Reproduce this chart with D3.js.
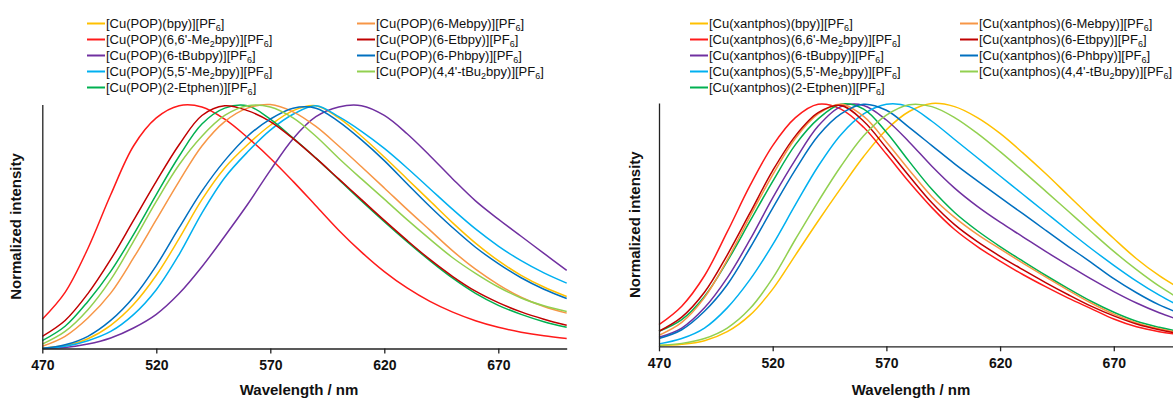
<!DOCTYPE html>
<html>
<head>
  <meta charset="utf-8">
  <title>emission spectra</title>
  <script src="https://cdn.jsdelivr.net/npm/d3@7"></script>
  <style>
    body { margin: 0; background: #fff; }
    svg { display: block; font-family: "Liberation Sans", Arial, sans-serif; }
    .axis path, .axis line { stroke: #222; stroke-width: 1.3; }
    .axis text { font-family: "Liberation Sans", Arial, sans-serif; font-size: 14px; font-weight: bold; fill: #111; }
    .title { font-size: 15px; font-weight: bold; fill: #111; }
    .legend text { font-size: 13px; fill: #111; }
  </style>
</head>
<body>
<script>

// wavelength grid (nm) and x tick labels
var wavelengths = [470, 480, 490, 500, 510, 520, 530, 540, 550, 560, 570, 580,
                   590, 600, 610, 620, 630, 640, 650, 660, 670, 680, 690, 700];
var xTicks = [470, 520, 570, 620, 670];

// left panel, [Cu(POP)(N^N)][PF6] - normalized emission
var popBpy      = [.002, .012, .04, .095, .18, .30, .45, .61, .74, .835, .915, .975, .995, .945, .87, .785, .695, .605, .515, .432, .36, .30, .252, .213];
var popMe2bpy   = [.12, .23, .41, .63, .83, .945, .995, .99, .94, .865, .78, .685, .585, .485, .395, .315, .248, .193, .149, .114, .087, .067, .052, .041];
var popTBubpy   = [0, .004, .018, .043, .084, .14, .225, .335, .46, .59, .73, .86, .95, .99, .995, .955, .88, .79, .695, .605, .53, .46, .39, .32];
var pop55Me2bpy = [0, .009, .032, .07, .139, .241, .385, .555, .70, .805, .895, .96, .995, .95, .89, .82, .74, .655, .57, .49, .42, .36, .31, .268];
var popEtphen   = [.032, .091, .193, .316, .467, .631, .788, .92, .985, .995, .94, .862, .78, .693, .605, .52, .438, .36, .288, .226, .177, .14, .11, .087];
var popMebpy    = [.009, .05, .125, .227, .371, .528, .685, .83, .93, .985, 1.0, .97, .91, .83, .745, .658, .57, .485, .40, .325, .262, .21, .172, .145];
var popEtbpy    = [.05, .115, .225, .365, .525, .685, .835, .955, .995, .975, .93, .86, .78, .695, .61, .525, .443, .365, .295, .235, .188, .15, .12, .095];
var popPhbpy    = [0, .015, .05, .115, .21, .34, .495, .645, .77, .87, .94, .985, .985, .93, .855, .77, .675, .582, .495, .415, .348, .29, .243, .205];
var popTBu2bpy  = [.018, .07, .159, .282, .439, .603, .753, .87, .955, .995, .99, .945, .87, .78, .695, .612, .528, .448, .372, .308, .252, .207, .175, .152];

// right panel, [Cu(xantphos)(N^N)][PF6]
var xantBpy      = [.003, .008, .023, .06, .128, .235, .375, .515, .65, .78, .89, .965, .998, .985, .94, .875, .795, .71, .62, .53, .443, .36, .29, .232];
var xantMe2bpy   = [.089, .165, .29, .47, .66, .825, .94, .995, .975, .90, .79, .675, .57, .48, .41, .35, .295, .245, .198, .155, .112, .08, .06, .046];
var xantTBubpy   = [.037, .075, .158, .281, .438, .61, .767, .905, .985, .99, .93, .84, .74, .65, .575, .51, .45, .39, .333, .277, .225, .178, .138, .105];
var xant55Me2bpy = [.01, .032, .075, .158, .274, .418, .582, .74, .87, .955, .995, .985, .925, .85, .775, .70, .625, .55, .475, .402, .333, .268, .21, .16];
var xantEtphen   = [.062, .11, .205, .349, .514, .678, .829, .935, .995, .975, .88, .76, .645, .55, .475, .41, .35, .292, .237, .185, .14, .103, .078, .058];
var xantMebpy    = [.045, .098, .20, .355, .533, .705, .855, .955, .995, .945, .84, .725, .615, .53, .46, .40, .342, .285, .23, .178, .132, .096, .072, .054];
var xantEtbpy    = [.062, .12, .222, .375, .548, .722, .865, .96, .99, .925, .815, .70, .59, .50, .43, .37, .315, .262, .212, .165, .125, .092, .068, .05];
var xantPhbpy    = [.032, .068, .144, .253, .404, .568, .726, .865, .955, .995, .97, .90, .825, .75, .68, .612, .545, .477, .41, .345, .278, .22, .17, .132];
var xantTBu2bpy  = [.004, .012, .032, .075, .155, .28, .44, .595, .74, .865, .95, .993, .985, .94, .875, .80, .72, .638, .555, .472, .39, .315, .247, .19];

// ligands in legend order (first column, then second column); "_n" = subscript
var ligands = ["(bpy)", "(6,6'-Me_2bpy)", "(6-tBubpy)", "(5,5'-Me_2bpy)", "(2-Etphen)",
               "(6-Mebpy)", "(6-Etbpy)", "(6-Phbpy)", "(4,4'-tBu_2bpy)"];
var colors = ["#FFC000", "#FF1A1A", "#7030A0", "#00B0F0", "#00B050",
              "#F79646", "#C00000", "#0070C0", "#92D050"];

var popSeries  = [popBpy, popMe2bpy, popTBubpy, pop55Me2bpy, popEtphen, popMebpy, popEtbpy, popPhbpy, popTBu2bpy];
var xantSeries = [xantBpy, xantMe2bpy, xantTBubpy, xant55Me2bpy, xantEtphen, xantMebpy, xantEtbpy, xantPhbpy, xantTBu2bpy];

var svg = d3.select("body").append("svg")
    .attr("width", 1173)
    .attr("height", 398);

function drawPanel(p) {
  var x = d3.scaleLinear().domain([470, 700]).range([p.left, p.right]);
  var y = d3.scaleLinear().domain([0, 1]).range([p.bottom, p.top]);

  var g = svg.append("g");

  // curves
  var line = d3.line()
      .x(function(d) { return x(d[0]); })
      .y(function(d) { return y(d[1]); })
      .curve(d3.curveCatmullRom.alpha(0.5));

  p.series.forEach(function(s, i) {
    g.append("path")
      .datum(wavelengths.map(function(w, k) { return [w, s[k]]; }))
      .attr("fill", "none")
      .attr("stroke", colors[i])
      .attr("stroke-width", 1.5)
      .attr("d", line);
  });

  // axes
  g.append("g")
      .attr("class", "axis")
      .attr("transform", "translate(0," + p.bottom + ")")
      .call(d3.axisBottom(x).tickValues(xTicks).tickFormat(d3.format("d"))
        .tickSize(5).tickSizeOuter(0).tickPadding(7));

  g.append("g")
      .attr("class", "axis")
      .attr("transform", "translate(" + p.left + ",0)")
      .call(d3.axisLeft(y).tickValues([]).tickSizeOuter(0));

  // titles
  g.append("text")
      .attr("class", "title")
      .attr("x", p.titleX)
      .attr("y", 395)
      .attr("text-anchor", "middle")
      .text("Wavelength / nm");

  g.append("text")
      .attr("class", "title")
      .attr("transform", "translate(" + p.yTitleX + "," + (p.top + p.bottom) / 2 + ") rotate(-90)")
      .attr("text-anchor", "middle")
      .text("Normalized intensity");

  // legend, two columns
  var leg = g.append("g").attr("class", "legend");
  ligands.forEach(function(lig, i) {
    var col = i < 5 ? 0 : 1;
    var row = i < 5 ? i : i - 5;
    var lx = p.legendX[col];
    var ly = 23.5 + row * 16;

    leg.append("line")
      .attr("x1", lx).attr("x2", lx + 18)
      .attr("y1", ly).attr("y2", ly)
      .attr("stroke", colors[i])
      .attr("stroke-width", 2);

    var t = leg.append("text")
      .attr("x", lx + 19)
      .attr("y", ly + 4.6);

    var parts = ("[Cu(" + p.name + ")" + lig + "][PF_6]").split(/_(\d)/);
    parts.forEach(function(part, k) {
      if (k % 2 === 1) {
        t.append("tspan").attr("font-size", "9px").attr("dy", 3).text(part);
      } else if (part) {
        t.append("tspan").attr("dy", k > 0 ? -3 : 0).text(part);
      }
    });
  });
}

drawPanel({
  name: "POP", series: popSeries,
  left: 42.3, right: 566.7, top: 104.5, bottom: 348.5,
  titleX: 299, yTitleX: 21, legendX: [87, 357]
});

drawPanel({
  name: "xantphos", series: xantSeries,
  left: 659, right: 1182, top: 103, bottom: 346.3,
  titleX: 911, yTitleX: 640, legendX: [690, 960]
});

</script>
</body>
</html>
